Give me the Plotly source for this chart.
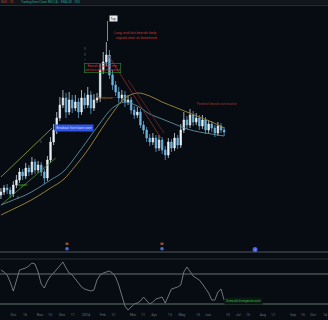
import plotly.graph_objects as go

# ---------------- data ----------------
opens = [55,58,62,60,56,65,70,78,74,82,78,88,80,85,78,72,90,108,120,132,145,152,138,150,142,148,138,152,145,155,
         142,150,152,180,188,195,175,165,158,152,155,148,150,140,135,138,125,120,112,108,112,102,110,100,95,108,102,112,
         105,120,130,125,135,128,132,124,130,120,126,122,117,124,120]
closes = [58,62,60,56,65,70,78,74,82,78,88,80,85,78,72,90,108,120,132,145,152,138,150,142,148,138,152,145,155,142,
          150,152,180,188,195,175,165,158,152,155,148,150,140,135,138,125,120,112,108,112,102,110,100,95,108,102,112,105,
          120,130,125,135,128,132,124,130,120,126,122,117,124,120,118]
highs = [62,65,66,63,69,75,82,81,87,85,93,91,89,88,81,94,113,126,138,153,160,157,158,155,155,152,160,157,163,159,
         156,157,186,198,208,200,180,169,163,160,159,155,153,144,143,141,129,123,116,117,115,115,113,104,112,111,117,115,
         126,138,134,141,139,137,135,135,133,130,129,125,128,127,123]
lows = [51,55,56,52,53,62,67,70,71,74,75,76,77,74,66,69,87,105,116,129,142,132,135,137,139,132,135,141,142,136,
        139,147,148,176,184,171,160,154,147,148,143,145,136,131,132,122,116,108,104,105,98,99,96,90,92,98,99,101,
        102,117,121,122,124,125,120,121,116,117,118,113,114,117,114]

ma_idx = [0,4,8,12,16,20,24,28,32,36,40,44,48,52,56,60,64,68,72]
ma_slow = [35,41,47,54,62,70,84,100,119,137,152,157,154,148,143,138,133,128,122]
ma_mid = [45,50,55,62,70,78,93,110,127,142,148,144,136,131,126,121,118,116,114]

chan_up_idx = [0, 16.5]
chan_up_val = [73, 122]
chan_lo_idx = [0, 17.7]
chan_lo_val = [45, 92]
trend1_idx = [34.8, 51.6]
trend1_val = [194, 112]
trend2_idx = [41, 52.6]
trend2_val = [170, 117]

rsi = [75.3,72.7,68.7,59.3,47.3,60.7,75.3,76.7,78,80.7,84.7,83.3,72.7,56.7,51.3,60.7,67.3,71.3,76.7,82,
       86,78,71.3,68.7,63.3,56.7,52.7,50,48.7,47.3,48.7,62,68.7,71.3,72.7,74,71.3,66,55.3,42,
       27.3,22,26,30,31.3,34,39.3,35.3,30,32.7,36.7,38,39.3,31.3,42,50,51.3,52.7,55.3,72.7,
       79.3,72.7,67.3,64.7,62,56.7,51.3,44.7,35.3,35.3,46,50,35.3]
rsi_levels = [90, 70, 30]

tick_idx = [4,7.8,12.6,15.8,19.7,23.2,27.4,32.9,36.2,42.6,45.8,49.4,54.5,58.4,63.6,66.8,73.2,76.5,79.7,84.5,87.8,94.2,97.4,100.7,104.5]
tick_text = ["Oct","16","Nov","13","Dec","11","2024","Feb","12","Mar","11","Apr","15","May","13","Jun","10","Jul","15","Aug","12","Sep","16","Oct","14"]

x = list(range(len(closes)))

BG = "#070b12"
W, H = 328, 320

def px(v):
    return v / W

def py(v):
    return (H - v) / H

fig = go.Figure()

fig.add_trace(go.Scatter(x=chan_up_idx, y=chan_up_val, mode="lines",
                         line=dict(color="#8fb03a", width=0.8), xaxis="x", yaxis="y", hoverinfo="skip"))
fig.add_trace(go.Scatter(x=chan_lo_idx, y=chan_lo_val, mode="lines",
                         line=dict(color="#4f8f2e", width=0.8), xaxis="x", yaxis="y", hoverinfo="skip"))
fig.add_trace(go.Scatter(x=ma_idx, y=ma_slow, mode="lines", line_shape="spline",
                         line=dict(color="#a08c3a", width=0.9), xaxis="x", yaxis="y", hoverinfo="skip"))
fig.add_trace(go.Scatter(x=ma_idx, y=ma_mid, mode="lines", line_shape="spline",
                         line=dict(color="#5f8fa0", width=0.9), xaxis="x", yaxis="y", hoverinfo="skip"))
fig.add_trace(go.Scatter(x=trend1_idx, y=trend1_val, mode="lines",
                         line=dict(color="#8a2f2a", width=0.8), xaxis="x", yaxis="y", hoverinfo="skip"))
fig.add_trace(go.Scatter(x=trend2_idx, y=trend2_val, mode="lines",
                         line=dict(color="#6e2a26", width=0.8), xaxis="x", yaxis="y", hoverinfo="skip"))

fig.add_trace(go.Candlestick(x=x, open=opens, high=highs, low=lows, close=closes,
                             increasing=dict(line=dict(color="#e8f0f8", width=0.7), fillcolor="#e8f0f8"),
                             decreasing=dict(line=dict(color="#6fb6e0", width=0.7), fillcolor="#6fb6e0"),
                             whiskerwidth=0, xaxis="x", yaxis="y", hoverinfo="skip"))

fig.add_trace(go.Scatter(x=x, y=rsi, mode="lines", line=dict(color="#9aa2aa", width=0.7),
                         xaxis="x2", yaxis="y2", hoverinfo="skip"))

shapes = []
lvl_colors = ["#2c3330", "#66756e", "#66756e"]
for lv, col in zip(rsi_levels, lvl_colors):
    shapes.append(dict(type="line", xref="paper", yref="y2", x0=0, x1=1, y0=lv, y1=lv,
                       line=dict(color=col, width=1.2)))
# header strip and separators
shapes.append(dict(type="rect", xref="paper", yref="paper", x0=0, x1=1, y0=py(4.5), y1=1,
                   fillcolor="#12151b", line=dict(width=0), layer="below"))
shapes.append(dict(type="line", xref="paper", yref="paper", x0=0, x1=1, y0=py(5.5), y1=py(5.5),
                   line=dict(color="#2a2e35", width=1)))
shapes.append(dict(type="line", xref="paper", yref="paper", x0=0, x1=1, y0=py(252), y1=py(252),
                   line=dict(color="#2c3138", width=2)))
# pointer from top label to the peak
shapes.append(dict(type="line", xref="paper", yref="paper", x0=px(107.5), x1=px(107.5), y0=py(21), y1=py(41),
                   line=dict(color="#d8dde4", width=0.6)))
# green marker line
shapes.append(dict(type="line", xref="paper", yref="paper", x0=px(85), x1=px(85), y0=py(47), y1=py(60),
                   line=dict(color="#2f8f3a", width=0.6, dash="dot")))
# event icons at bottom of price panel
for cx in [67, 162]:
    shapes.append(dict(type="rect", xref="paper", yref="paper", x0=px(cx - 1.5), x1=px(cx + 1.5), y0=py(245), y1=py(242.5),
                       fillcolor="#8a552a", line=dict(width=0)))
    shapes.append(dict(type="circle", xref="paper", yref="paper", x0=px(cx - 1.8), x1=px(cx + 1.8), y0=py(250.5), y1=py(247),
                       fillcolor="#4a6ad8", line=dict(width=0)))
shapes.append(dict(type="circle", xref="paper", yref="paper", x0=px(252.5), x1=px(257.5), y0=py(252), y1=py(247),
                   fillcolor="#4a62e0", line=dict(width=0)))

FONT = "Roboto"
ann = []
def label(x0, y0, text, color, size=3.6, **kw):
    ann.append(dict(xref="paper", yref="paper", x=px(x0), y=py(y0), text=text, showarrow=False,
                    font=dict(family=FONT, size=size, color=color), xanchor="center", yanchor="middle", **kw))

label(7, 2.2, "NSE · 1D", "#b8482a", size=3.2)
label(50, 2.2, "TradingView Chart RSI(14) · EMA 50 · 200", "#25a595", size=3.2)
label(113.5, 18.5, "Top", "#333", size=3.2, bgcolor="#e6e9ee", borderpad=0.5)
label(135, 33, "Long wick but bearish body", "#c8352c", size=3.5)
label(136, 38, "signals start of downtrend", "#c8352c", size=3.5)
label(102.5, 67.5, "Bearish engulfing near<br>previous swing resistance", "#c8352c", size=3.0,
      bordercolor="#2f8f3a", borderwidth=0.6, borderpad=0.6)
label(74, 127.5, "Breakout from base zone", "#d6deff", size=3.2, bgcolor="#2f55e6", borderpad=1.2)
label(108, 97.5, "Resistance ——", "#b0702c", size=3.0)
label(217, 104, "Potential bearish continuation", "#9a3a30", size=3.0)
label(22, 185, "Support", "#5aaf38", size=3.0)
label(41, 142, "S", "#7a8088", size=2.8)
label(44, 168, "L", "#7a8088", size=2.8)
label(18, 198, "B", "#7a8088", size=2.8)
label(255, 249.5, "i", "#ffffff", size=3.2)
label(243, 301, "Oversold divergence zone", "#3aaf52", size=3.0, bgcolor="#0d1a12")

fig.update_layout(
    width=W, height=H,
    margin=dict(l=0, r=0, t=0, b=0),
    paper_bgcolor=BG, plot_bgcolor=BG,
    showlegend=False,
    xaxis=dict(domain=[0, 1], range=[-0.3, 105.5], anchor="y", showgrid=False, zeroline=False,
               showticklabels=False, rangeslider=dict(visible=False), fixedrange=True),
    yaxis=dict(domain=[py(250), py(12)], range=[0, 238], showgrid=False, zeroline=False,
               showticklabels=False),
    xaxis2=dict(domain=[0, 1], range=[-0.3, 105.5], anchor="y2", matches="x", showgrid=False, zeroline=False,
                tickmode="array", tickvals=tick_idx, ticktext=tick_text, ticks="",
                tickfont=dict(family=FONT, size=3.6, color="#6a7078")),
    yaxis2=dict(domain=[py(311), py(253)], range=[20.7, 98], showgrid=False, zeroline=False,
                showticklabels=False),
    shapes=shapes,
    annotations=ann,
)

fig.write_html("out.html")
